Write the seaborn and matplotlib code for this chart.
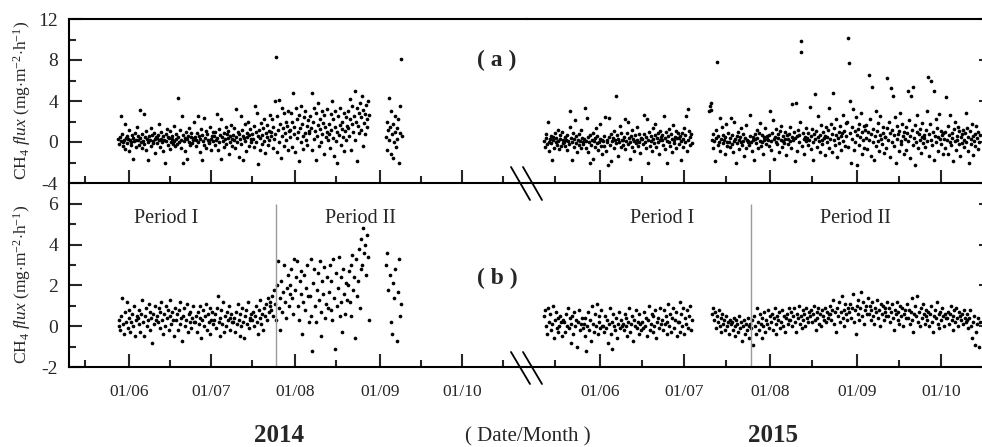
import numpy as np
import pandas as pd
import matplotlib
matplotlib.use("Agg")
import matplotlib.pyplot as plt
import matplotlib.dates as mdates
from matplotlib.lines import Line2D
import seaborn as sns

# ---------------- data (flux values in tenths of mg m-2 h-1, read per block) ----------------
A14_START = ["2014-05-28", "2014-06-04", "2014-06-11", "2014-06-18", "2014-06-25", "2014-07-02", "2014-07-09",
             "2014-07-16", "2014-07-23", "2014-07-30", "2014-08-06", "2014-08-13", "2014-08-20", "2014-09-03"]
A14_DAYS = [7, 7, 7, 7, 7, 7, 7, 7, 7, 7, 7, 7, 8, 6]
A14_VALS = [
    [3, -2, 5, 1, 25, 8, -4, 0, 2, 18, -7, 4, 6, -1, 3, -9, 12, 2, 0, -3, 7, -17, 4, 1, 9, -5, 2, 15],
    [2, 6, -3, 31, 4, 0, -6, 8, 1, 27, -2, 5, 11, -8, 3, 0, -18, 6, 2, 14, -4, 7, 1, -1, 9, 3, -11, 5],
    [4, -1, 7, 2, 18, -5, 3, 10, 0, -9, 6, 2, -20, 8, 1, 13, -3, 5, 4, -7, 11, 0, 3, 6, -2, 16, 1, -4],
    [3, 8, -2, 43, 5, 0, 12, -6, 2, 25, 7, -20, 1, 4, -9, 10, 3, -17, 6, 0, 14, -3, 5, 9, -1, 2, 20, 4],
    [5, 2, -4, 9, 25, 0, 6, -10, 3, 13, -18, 7, 1, 23, -3, 4, 11, -6, 8, 2, 0, -1, 15, 3, -8, 6, 10, 1],
    [6, -3, 10, 2, 27, 4, -8, 13, 0, 7, 22, -17, 5, 1, 9, -5, 3, 15, -2, 8, 4, 11, -12, 6, 0, 17, 3, -4],
    [7, 2, 14, -6, 32, 5, 0, 10, -15, 8, 3, 25, -2, 12, 6, -18, 4, 18, 1, -9, 9, 5, 20, -4, 7, 13, 0, 3],
    [8, 3, 16, -5, 35, 10, 0, 28, -21, 6, 12, -8, 4, 19, 7, -2, 14, 1, 22, -11, 9, 5, 17, -3, 11, 2, 26, 6],
    [10, 22, -6, 15, 3, 40, 8, 83, -10, 25, 12, 41, 0, 18, -16, 33, 6, 14, 28, -4, 9, 20, 2, 16, -8, 30, 11, 5],
    [12, 28, -5, 20, 48, 8, 15, -10, 33, 4, 22, 10, -19, 26, 14, 0, 35, 18, 6, -7, 24, 9, 30, 2, 16, -3, 21, 11],
    [9, 25, 14, -8, 48, 20, 3, 33, 11, -18, 28, 6, 17, 38, -4, 22, 13, 0, 30, 8, 19, -12, 26, 15, 5, 32, 10, 2],
    [8, 18, -6, 27, 12, 40, 4, 22, -14, 15, 30, 1, 10, -20, 25, 7, 17, 33, -3, 13, 20, 5, 28, -9, 11, 24, 2, 16],
    [14, 30, 6, 22, 42, -8, 18, 35, 10, 25, 50, 2, 20, 33, -19, 16, 28, 9, 38, 24, 12, 45, -4, 31, 19, 27, 8, 36, 15, 22, 40, 26],
    [5, 20, -8, 12, 43, 2, 15, -12, 30, 8, -16, 18, 0, 25, 10, -5, 14, 3, 22, -20, 9, 35, 81, 6],
]

A15_START = ["2015-05-12", "2015-05-19", "2015-05-26", "2015-06-02", "2015-06-09", "2015-06-16", "2015-06-23",
             "2015-06-29", "2015-07-10", "2015-07-17", "2015-07-24", "2015-07-31", "2015-08-07", "2015-08-14",
             "2015-08-21", "2015-08-28", "2015-09-04", "2015-09-11", "2015-09-18", "2015-09-25", "2015-10-02",
             "2015-10-09"]
A15_DAYS = [7, 7, 7, 7, 7, 7, 6, 5, 7, 7, 7, 7, 7, 7, 7, 7, 7, 7, 7, 7, 7, 6]
A15_VALS = [
    [1, -5, 4, 8, -2, 20, 0, -9, 3, 6, -1, -18, 5, 2, -6, 9, 0, 4, -3, 12, 1, -7, 7, 3, -4, 10, 2, -1],
    [0, 5, -4, 2, -8, 7, 1, -2, 15, 30, 4, -18, 0, 9, -5, 3, 21, -1, 6, -10, 2, 8, -3, 1, 12, -6, 4, 0],
    [-2, 3, 33, -6, 1, 23, -10, 5, 0, -20, 7, -3, 2, -17, 9, 1, -5, 4, 14, -1, 6, -8, 0, 3, 18, -4, 2, -12],
    [1, -4, 6, 24, -9, 2, 0, -22, 5, 23, -3, 8, -19, 1, 4, -6, 11, 2, -1, 45, 7, -14, 3, 0, 16, -5, 9, 2],
    [2, -3, 5, 22, -7, 1, 9, -2, 20, 4, -17, 0, 6, -5, 12, 3, -9, 1, 7, -1, 15, 2, -4, 8, 0, -11, 4, 3],
    [3, -2, 8, 26, 0, -6, 5, 22, -20, 2, 10, -4, 6, 1, -9, 14, 3, -1, 7, 18, -5, 4, 0, 9, -12, 2, 11, 5],
    [2, 7, -3, 25, 4, -7, 10, 1, -20, 6, 0, 13, -4, 8, 3, -10, 17, 2, -1, 5, 11, -6, 4, 9],
    [4, -2, 6, 1, -18, 9, 3, -5, 14, 0, 7, 25, -9, 2, 32, 11, -3, 5, 8, -1],
    [30, 35, 38, 31, 2, -6, 8, 1, -19, 4, 12, 78, -3, 6, 0, 23, -9, 3, 15, -1, 7, 2, -12, 5, 18, 0, -4, 9],
    [0, -5, 4, 23, -2, 7, -10, 1, 20, 3, -20, 6, -1, 10, 2, -7, 5, 0, 14, -3, 8, 1, -14, 4, 17, -6, 2, 0],
    [1, -3, 6, 26, 0, -9, 5, 2, -18, 8, 3, -1, 12, 4, -6, 9, 1, 19, -4, 7, 0, -12, 5, 2, 14, -2, 6, 3],
    [2, -4, 7, 30, 1, -8, 9, 21, 3, -17, 5, 0, 13, -2, 8, 4, -10, 11, 2, 16, -5, 6, 1, -1, 10, 3, -13, 7],
    [3, -2, 8, 1, 15, -6, 5, 37, 2, 10, -19, 4, 38, 6, -9, 12, 0, 7, 20, 99, 88, -4, 9, 3, -12, 5, 14, 1],
    [4, -3, 9, 2, 34, -7, 6, 13, 0, -18, 8, 47, 3, 11, -5, 5, 25, 1, -10, 7, 17, 2, -2, 10, 4, -13, 6, 15],
    [5, 0, 12, -6, 33, 3, 18, -10, 8, 48, 2, 14, -3, 7, 22, -15, 4, 10, -1, 16, 6, -8, 9, 26, 1, 11, -4, 19],
    [6, 20, -5, 101, 77, 9, 40, -20, 3, 15, 32, -8, 11, 0, 24, -22, 7, 13, -3, 18, 5, 28, -12, 10, 2, 16, -6, 12],
    [4, 17, -7, 10, 65, 2, 22, -14, 8, 54, 0, 13, -18, 6, 30, -4, 11, 1, 19, -9, 7, 25, 3, -2, 15, 9, -11, 5],
    [5, -6, 14, 62, 2, 20, -15, 9, 53, 0, 12, 45, -4, 7, 24, -20, 3, 16, 8, -9, 11, 28, 1, -2, 18, 6, -12, 10],
    [3, 15, -8, 9, 50, 1, 21, -16, 6, 45, 12, -3, 54, 4, -22, 17, 0, 10, 26, -6, 8, 2, 13, -11, 5, 19, -1, 7],
    [4, -5, 12, 30, 1, 63, 8, -14, 18, 60, 2, -3, 10, 50, -18, 6, 22, 0, 14, -9, 5, 27, 3, -2, 11, 7, -12, 9],
    [3, 10, -6, 44, 2, 16, -12, 7, 0, 26, -3, 9, 4, -19, 13, 1, 20, -8, 6, 2, 15, -2, 11, -14, 5, 8, -1, 12],
    [2, -5, 9, 28, 0, 14, -9, 5, -20, 11, 3, -2, 18, 6, -13, 1, 8, -4, 16, 4, -7, 10, 0, 7],
]

B14_START = A14_START
B14_DAYS = A14_DAYS
B14_VALS = [
    [0, 3, -2, 5, 14, 1, -4, 7, 2, 12, -1, 4, 8, -3, 2, 6, 0, 10, -5, 3, 5],
    [4, 1, 8, -3, 6, 13, 2, -5, 5, 9, 0, 3, 11, -2, 7, 4, -8, 6, 1, 10, 3],
    [5, 2, 9, -1, 7, 12, 3, -4, 6, 0, 10, 4, 8, -2, 5, 13, 1, 7, 3, -5, 9],
    [3, 6, -2, 8, 1, 12, 4, -7, 5, 9, 0, 3, 11, -3, 6, 2, 7, -1, 4, 10, 2],
    [2, 5, -3, 7, 1, 10, 4, -6, 3, 8, 0, 5, 11, -2, 6, 2, 9, -4, 3, 7, 1],
    [3, 6, -1, 9, 15, 2, -5, 4, 8, 1, 12, -3, 5, 0, 7, 3, 10, -2, 4, 6, 2],
    [2, 4, -3, 7, 1, 11, 3, -5, 6, 0, 9, 2, -6, 5, 8, 1, 12, -1, 4, 3, 6],
    [3, 7, 0, 5, 10, 2, -4, 8, 4, 13, 1, 6, -2, 9, 5, 11, 3, 14, 7, 10, 12],
    [8, 15, 5, 18, 11, 3, 20, 32, 9, 14, -2, 22, 7, 17, 30, 12, 4, 19, 25, 10, 16],
    [20, 28, 14, 6, 33, 18, 24, 32, 10, 3, 22, 27, 16, -4, 12, 25, 8, 19, 30, 15, 2],
    [15, 33, 5, -12, 21, 28, 10, 2, 18, 26, 13, 32, 7, -5, 22, 16, 29, 4, 11, 24, 9],
    [17, 30, 8, 22, 3, 33, 14, -11, 26, 10, 19, 34, 5, 24, 12, -3, 28, 16, 6, 21, 13],
    [20, 27, 12, 30, 5, 35, 18, 24, -6, 33, 15, 22, 38, 9, 28, 43, 30, 48, 36, 40, 25, 45, 34, 3],
    [30, 36, 18, 25, 2, -4, 21, 14, 28, -7, 17, 33, 5, 11],
]

B15_START = ["2015-05-12", "2015-05-19", "2015-05-26", "2015-06-02", "2015-06-09", "2015-06-16", "2015-06-23",
             "2015-06-29", "2015-07-11", "2015-07-18", "2015-07-25", "2015-08-01", "2015-08-08", "2015-08-15",
             "2015-08-22", "2015-08-29", "2015-09-05", "2015-09-12", "2015-09-19", "2015-09-26", "2015-10-03",
             "2015-10-10"]
B15_DAYS = [7, 7, 7, 7, 7, 7, 6, 5, 7, 7, 7, 7, 7, 7, 7, 7, 7, 7, 7, 7, 7, 5]
B15_VALS = [
    [5, 8, 0, -4, 9, 2, 6, -2, 1, 10, -6, 3, 7, -1, 4, -3, 0, 5, 2, -5, 3],
    [2, -3, 6, 0, 9, -1, 4, -8, 1, 5, -4, 7, 0, 3, -10, 2, 8, -2, 1, 4, -1],
    [1, -5, 4, -12, 0, 7, -2, 3, -7, 10, 1, -3, 6, 0, 11, -4, 2, 5, -1, 8, 0],
    [0, -3, 5, -1, 3, -8, 1, 9, -4, 2, -11, 6, 0, -2, 4, -6, 1, 7, -1, 3, 0],
    [1, -2, 6, 0, 4, -5, 2, 9, -3, 1, 5, -7, 3, 0, 8, -1, 2, -4, 6, 1, -2],
    [2, -1, 7, 0, 4, -5, 3, 10, -2, 1, 6, -3, 5, 0, 8, -6, 2, 4, -1, 9, 1],
    [3, -2, 8, 1, 5, -4, 2, 11, 0, 6, -3, 4, 9, -1, 3, 7, -5, 2],
    [2, 12, -3, 6, 0, 9, -4, 4, 1, 8, -1, 5, 10, -2, 3],
    [6, 9, 3, 7, -1, 5, 2, 8, 0, 4, -3, 6, 1, 3, -2, 5, 0, 2, -4, 3, 1],
    [2, -2, 4, 0, -5, 3, 1, -3, 5, -1, 2, -7, 0, 3, -4, 1, -2, 4, -6, 0, 1],
    [-1, 3, -9, 5, 0, -4, 9, 2, -2, 6, 1, -6, 4, 0, 7, -3, 3, 1, 8, -1, 5],
    [2, 6, -2, 4, 9, 1, -4, 5, 3, 7, -1, 2, 8, 0, 5, -3, 4, 6, 1, 9, 3],
    [3, 7, 0, 5, 9, 2, -3, 6, 4, 10, 1, 5, -1, 8, 3, 6, 0, 9, 4, 2, 7],
    [5, 8, 2, 6, 10, 3, -2, 7, 4, 9, 1, 6, 0, 8, 5, 3, 9, 2, 7, 4, 6],
    [6, 10, 3, 8, 13, 1, 7, -3, 9, 5, 12, 2, 7, 15, 4, 8, 0, 11, 6, 3, 9],
    [7, 11, 4, 9, 16, 2, 8, -4, 10, 6, 13, 3, 9, 17, 5, 12, 1, 8, 10, 6, 14],
    [6, 10, 3, 8, 12, 5, 1, 9, 7, 13, 4, 8, 0, 11, 6, 10, 3, 7, 9, 5, 12],
    [5, 9, 2, 7, 11, 4, -2, 8, 6, 12, 3, 7, 1, 10, 5, 9, 0, 6, 8, 4, 11],
    [4, 8, 1, 7, 14, 3, -3, 6, 10, 5, 15, 2, 7, 0, 9, 4, 11, 6, 1, 8, 5],
    [3, 7, 0, 6, 10, 2, -3, 5, 8, 4, 12, 1, 6, -1, 7, 3, 9, 5, 0, 6, 4],
    [4, 7, 1, 6, 10, 3, -2, 5, 8, 2, 9, 4, 0, 7, 5, 3, 6, 1, 8, 4, 2],
    [3, 6, -1, 4, 8, 0, -6, 2, 5, -9, -3, 1, 4, -10, 2],
]

PERIOD_SPLIT = {"2014": "2014-07-25", "2015": "2015-07-25"}
XLIM = {"2014": ("2014-05-10", "2014-10-24 20:00"), "2015": ("2015-05-05 22:00", "2015-10-15 17:00")}
YLIM_A = (-4, 12)
YLIM_B = (-2, 7.03)


def build(starts, days, vals):
    rows = []
    for s, d, v in zip(starts, days, vals):
        t0 = pd.Timestamp(s)
        n = len(v)
        for i, val in enumerate(v):
            rows.append((t0 + pd.Timedelta(days=d * (i + 0.5) / n), val / 10.0))
    return pd.DataFrame(rows, columns=["time", "flux"])


dfs = {
    ("a", "2014"): build(A14_START, A14_DAYS, A14_VALS),
    ("a", "2015"): build(A15_START, A15_DAYS, A15_VALS),
    ("b", "2014"): build(B14_START, B14_DAYS, B14_VALS),
    ("b", "2015"): build(B15_START, B15_DAYS, B15_VALS),
}

# ---------------- style ----------------
sns.set_style("ticks")
plt.rcParams["font.family"] = ["Liberation Serif", "DejaVu Serif"]
plt.rcParams["mathtext.fontset"] = "custom"
plt.rcParams["mathtext.rm"] = "Liberation Serif"
plt.rcParams["mathtext.it"] = "Liberation Serif:italic"
plt.rcParams["mathtext.bf"] = "Liberation Serif:bold"
plt.rcParams["axes.unicode_minus"] = False

W, H = 982, 447
fig = plt.figure(figsize=(W / 100, H / 100), dpi=100)


def fx(px):
    return px / W


def fy(py):
    return 1 - py / H


x_left, x_break, x_right = 69, 527, 982
rows_px = {"a": (19, 183), "b": (183, 367)}

axes = {}
for panel, (top, bot) in rows_px.items():
    for yr, (l, r) in {"2014": (x_left, x_break), "2015": (x_break, x_right)}.items():
        ax = fig.add_axes([fx(l), fy(bot), fx(r - l), (bot - top) / H])
        axes[(panel, yr)] = ax

lw = 1.5
for (panel, yr), ax in axes.items():
    df = dfs[(panel, yr)]
    sns.scatterplot(data=df, x="time", y="flux", ax=ax, color="black", s=7, linewidth=0, legend=False)
    ax.set_xlim(pd.Timestamp(XLIM[yr][0]), pd.Timestamp(XLIM[yr][1]))
    ax.set_ylim(*(YLIM_A if panel == "a" else YLIM_B))
    ax.set_xlabel("")
    ax.set_ylabel("")
    ax.patch.set_alpha(0)
    for sp in ax.spines.values():
        sp.set_linewidth(lw)
        sp.set_color("black")
    ax.spines["right"].set_visible(False)
    if panel == "b":
        ax.spines["top"].set_visible(False)
    if yr == "2015":
        ax.spines["left"].set_visible(False)
    # x ticks
    ax.xaxis.set_major_locator(mdates.MonthLocator(bymonthday=1))
    ax.xaxis.set_minor_locator(mdates.MonthLocator(bymonthday=16))
    ax.xaxis.set_major_formatter(mdates.DateFormatter("%d/%m"))
    ax.tick_params(axis="x", which="major", direction="in", length=9.5, width=lw, bottom=True, top=False,
                   labelsize=12.5, pad=12, labelbottom=(panel == "b"))
    ax.tick_params(axis="x", which="minor", direction="in", length=4.8, width=lw, bottom=True, top=False)
    # y ticks
    if panel == "a":
        ax.set_yticks([-4, 0, 4, 8, 12])
        ax.set_yticks([-2, 2, 6, 10], minor=True)
    else:
        ax.set_yticks([-2, 0, 2, 4, 6])
        ax.set_yticks([-1, 1, 3, 5], minor=True)
    if yr == "2014":
        ax.tick_params(axis="y", which="major", direction="in", length=9, width=lw, left=True, right=False,
                       labelsize=14, pad=8)
        ax.tick_params(axis="y", which="minor", direction="in", length=5, width=lw, left=True, right=False)
    else:
        ax.tick_params(axis="y", which="major", direction="in", length=2.5, width=lw, left=False, right=True,
                       labelleft=False, labelright=False)
        ax.tick_params(axis="y", which="minor", left=False, right=False)
    if panel == "b":
        ax.vlines(pd.Timestamp(PERIOD_SPLIT[yr]), -2, 6, color="#9a9a9a", lw=1.0)

ylab = r"CH$_4$ $\mathit{flux}$ (mg$\cdot$m$^{-2}$$\cdot$h$^{-1}$)"
fig.text(fx(22), fy(100), ylab, rotation=90, ha="center", va="center", fontsize=12.5)
fig.text(fx(22), fy(284), ylab, rotation=90, ha="center", va="center", fontsize=12.5)

fig.text(fx(497), fy(60), "( a )", ha="center", va="center", fontsize=17, fontweight="bold")
fig.text(fx(497), fy(278), "( b )", ha="center", va="center", fontsize=17, fontweight="bold")
for txt, px in [("Period I", 166), ("Period II", 360), ("Period I", 662), ("Period II", 855)]:
    fig.text(fx(px), fy(218), txt, ha="center", va="center", fontsize=14.5)
fig.text(fx(279), fy(435), "2014", ha="center", va="center", fontsize=18, fontweight="bold")
fig.text(fx(773), fy(435), "2015", ha="center", va="center", fontsize=18, fontweight="bold")
fig.text(fx(528), fy(437), "( Date/Month )", ha="center", va="center", fontsize=15)

# break marks
for (y0, y1) in [(167, 200), (352, 384)]:
    for dx in (0, 12):
        fig.add_artist(Line2D([fx(511 + dx), fx(530 + dx)], [fy(y0), fy(y1)], color="black", lw=1.3,
                              transform=fig.transFigure, clip_on=False))

fig.savefig("out.png", dpi=100)
